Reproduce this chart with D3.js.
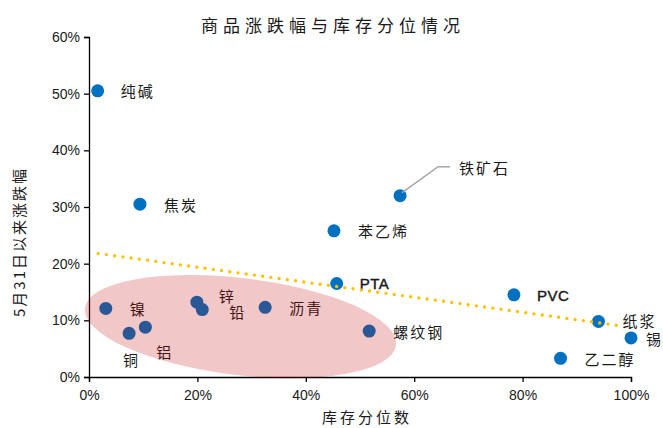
<!DOCTYPE html>
<html>
<head>
<meta charset="utf-8">
<script src="https://cdn.jsdelivr.net/npm/d3@7"></script>
<style>
  html, body { margin: 0; padding: 0; background: #fff; }
  svg { display: block; }
</style>
</head>
<body>
<svg id="chart" width="663" height="428"></svg>
<script>
// Commodities: inventory percentile (x) vs. price change since May 31 (y)
const names         = ["纯碱", "焦炭", "铁矿石", "苯乙烯", "PTA", "PVC", "纸浆", "锡", "乙二醇", "螺纹钢", "沥青", "镍", "铜", "铝", "锌", "铅"];
const inventoryPct  = [0.016, 0.094, 0.574, 0.452, 0.457, 0.784, 0.940, 1.000, 0.870, 0.517, 0.325, 0.031, 0.074, 0.104, 0.199, 0.209];
const priceChange   = [0.505, 0.305, 0.320, 0.258, 0.165, 0.145, 0.098, 0.069, 0.033, 0.081, 0.123, 0.121, 0.077, 0.088, 0.132, 0.119];

// Trend line end points (inventory percentile, price change)
const trendX = [0.017, 0.983];
const trendY = [0.218, 0.090];

// Tick values
const xTicks = [0, 0.2, 0.4, 0.6, 0.8, 1.0];
const yTicks = [0, 0.1, 0.2, 0.3, 0.4, 0.5, 0.6];

// Highlighted group (base metals, rebar, asphalt): centre and semi-axes in data units
const groupCenter = [0.2795, 0.089];
const groupRadii  = [0.289, 0.0856];
const groupTiltDeg = 6.8;

// Label placement relative to each point (pixels)
const labelOffset = {
  "纯碱": [23, 0], "焦炭": [24, 0], "铁矿石": [59, -28], "苯乙烯": [24, 0],
  "PTA": [23, 0], "PVC": [23, 1], "纸浆": [24, -1], "锡": [15, 1],
  "乙二醇": [24, 0], "螺纹钢": [24, 0], "沥青": [24, 0], "镍": [24, 0],
  "铜": [-6, 26], "铝": [11, 24], "锌": [22, -7], "铅": [27, 2]
};

const svg = d3.select("#chart");
const margin = { left: 89, right: 32, top: 37, bottom: 51 };
const W = 663, H = 428;

const x = d3.scaleLinear().domain([0, 1]).range([margin.left, W - margin.right]);
const y = d3.scaleLinear().domain([0, 0.6]).range([H - margin.bottom, margin.top]);

const cjk = "'Noto Sans CJK SC', 'Noto Sans', sans-serif";
const latin = "'Liberation Sans', Arial, sans-serif";

// Title
svg.append("text")
  .attr("x", 333).attr("y", 24)
  .attr("text-anchor", "middle").attr("dominant-baseline", "central")
  .style("font-family", cjk).style("font-size", "17px")
  .style("letter-spacing", "5px").attr("fill", "#1a1a1a")
  .text("商品涨跌幅与库存分位情况");

// Axes
const fmt = d3.format(".0%");
const xAxis = svg.append("g")
  .attr("transform", `translate(0,${y(0)})`)
  .call(d3.axisBottom(x).tickValues(xTicks).tickFormat(fmt).tickSizeOuter(0).tickSize(5).tickPadding(8));
const yAxis = svg.append("g")
  .attr("transform", `translate(${x(0)},0)`)
  .call(d3.axisLeft(y).tickValues(yTicks).tickFormat(fmt).tickSizeOuter(0).tickSize(5).tickPadding(4));

[xAxis, yAxis].forEach(g => {
  g.select(".domain").attr("stroke", "#000").attr("stroke-width", 1.3);
  g.selectAll(".tick line").attr("stroke", "#000").attr("stroke-width", 1.3);
  g.selectAll(".tick text")
    .style("font-family", latin).style("font-size", "14px").attr("fill", "#1a1a1a");
});

// Axis titles
svg.append("text")
  .attr("x", 367).attr("y", 416)
  .attr("text-anchor", "middle").attr("dominant-baseline", "central")
  .style("font-family", cjk).style("font-size", "15px")
  .style("letter-spacing", "3px").attr("fill", "#1a1a1a")
  .text("库存分位数");

svg.append("text")
  .attr("transform", "translate(18,242) rotate(-90)")
  .attr("text-anchor", "middle").attr("dominant-baseline", "central")
  .style("font-family", cjk).style("font-size", "15px")
  .style("letter-spacing", "2px").attr("fill", "#1a1a1a")
  .text("5月31日以来涨跌幅");

const pts = names.map((n, i) => ({ name: n, x: inventoryPct[i], y: priceChange[i] }));

// Points
svg.append("g").selectAll("circle")
  .data(pts).join("circle")
  .attr("cx", d => x(d.x)).attr("cy", d => y(d.y))
  .attr("r", 6.5).attr("fill", "#0070C0");

// Leader line for iron ore
const ore = pts.find(d => d.name === "铁矿石");
const oreOff = labelOffset["铁矿石"];
svg.append("path")
  .attr("d", d3.line()([
    [x(ore.x) + 2, y(ore.y) - 3],
    [x(ore.x) + 38, y(ore.y) - 29],
    [x(ore.x) + oreOff[0] - 9, y(ore.y) - 29]
  ]))
  .attr("fill", "none").attr("stroke", "#A6A6A6").attr("stroke-width", 1.5);

// Labels
const isLatin = n => /^[A-Z]+$/.test(n);
svg.append("g").selectAll("text")
  .data(pts).join("text")
  .attr("x", d => x(d.x) + labelOffset[d.name][0])
  .attr("y", d => y(d.y) + labelOffset[d.name][1])
  .attr("dominant-baseline", "central")
  .style("font-family", d => isLatin(d.name) ? latin : cjk)
  .style("font-size", "15px")
  .style("letter-spacing", d => isLatin(d.name) ? "0.5px" : "2px")
  .attr("fill", "#1a1a1a")
  .attr("stroke", d => isLatin(d.name) ? "#1a1a1a" : "none")
  .attr("stroke-width", 0.45)
  .text(d => d.name);

// Dotted trend line
svg.append("path")
  .attr("d", d3.line()(trendX.map((v, i) => [x(v), y(trendY[i])])))
  .attr("fill", "none").attr("stroke", "#FFC000")
  .attr("stroke-width", 3.4).attr("stroke-linecap", "round")
  .attr("stroke-dasharray", "0 8.3");

// Translucent highlight over the grouped commodities
const cx = x(groupCenter[0]), cy = y(groupCenter[1]);
svg.append("ellipse")
  .attr("cx", 0).attr("cy", 0)
  .attr("rx", x(groupRadii[0]) - x(0))
  .attr("ry", y(0) - y(groupRadii[1]))
  .attr("transform", `translate(${cx},${cy}) rotate(${groupTiltDeg})`)
  .attr("fill", "#C00000").attr("fill-opacity", 0.22);
</script>
</body>
</html>
